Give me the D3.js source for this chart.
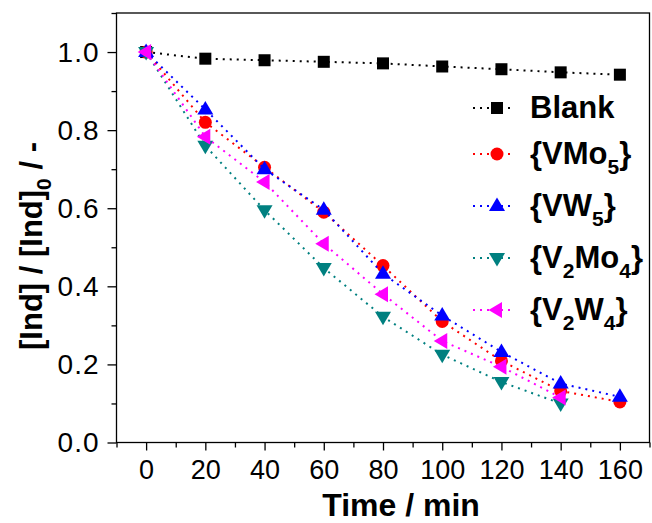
<!DOCTYPE html>
<html>
<head>
<meta charset="utf-8">
<script src="https://cdn.jsdelivr.net/npm/d3@7"></script>
<style>
  html, body { margin: 0; background: #fff; overflow: hidden; }
  svg { display: block; font-family: "Liberation Sans", Arial, sans-serif; }
</style>
</head>
<body>
<div id="chart"></div>
<script>
// time axis (min)
const time = [0, 20, 40, 60, 80, 100, 120, 140, 160]

// [Ind]/[Ind]0
const blank = [1.0, 0.983, 0.979, 0.975, 0.971, 0.963, 0.956, 0.948, 0.942]
const vmo5 = [1.0, 0.82, 0.705, 0.59, 0.453, 0.31, 0.209, 0.132, 0.104]
const vw5 = [1.0, 0.853, 0.70, 0.596, 0.432, 0.325, 0.232, 0.151, 0.117]
const v2mo4 = [1.0, 0.76, 0.595, 0.447, 0.322, 0.225, 0.155, 0.10]
const v2w4 = [1.0, 0.783, 0.667, 0.509, 0.38, 0.26, 0.194, 0.115]

const xTicks = [0, 20, 40, 60, 80, 100, 120, 140, 160]
const xMinor = [-10, 10, 30, 50, 70, 90, 110, 130, 150, 170]
const yTicks = [0, 0.2, 0.4, 0.6, 0.8, 1.0]
const yMinor = [0.1, 0.3, 0.5, 0.7, 0.9, 1.1]

// legend labels split into [text, isSubscript]
const series = [
  { parts: [['Blank', false]], values: blank, color: '#000000', symbol: 'square' },
  { parts: [['{VMo', false], ['5', true], ['}', false]], values: vmo5, color: '#ff0000', symbol: 'circle' },
  { parts: [['{VW', false], ['5', true], ['}', false]], values: vw5, color: '#0000ff', symbol: 'up' },
  { parts: [['{V', false], ['2', true], ['Mo', false], ['4', true], ['}', false]], values: v2mo4, color: '#008080', symbol: 'down' },
  { parts: [['{V', false], ['2', true], ['W', false], ['4', true], ['}', false]], values: v2w4, color: '#ff00ff', symbol: 'left' }
]

const width = 652
const height = 523
const margin = { top: 13, right: 2.5, bottom: 80.5, left: 116.5 }
const innerWidth = width - margin.left - margin.right
const innerHeight = height - margin.top - margin.bottom

const svg = d3.select('#chart').append('svg')
  .attr('width', width)
  .attr('height', height)

const g = svg.append('g')
  .attr('transform', `translate(${margin.left},${margin.top})`)

const x = d3.scaleLinear().domain([-10, 170]).range([0, innerWidth])
const y = d3.scaleLinear().domain([0, 1.1]).range([innerHeight, 0])

// minor ticks
g.append('g')
  .attr('transform', `translate(0,${innerHeight})`)
  .call(d3.axisBottom(x).tickValues(xMinor).tickSize(5).tickFormat(''))
  .call(a => a.selectAll('text').remove())
g.append('g')
  .call(d3.axisLeft(y).tickValues(yMinor).tickSize(5).tickFormat(''))
  .call(a => a.selectAll('text').remove())

// major ticks
g.append('g')
  .attr('transform', `translate(0,${innerHeight})`)
  .call(d3.axisBottom(x).tickValues(xTicks).tickSize(8).tickPadding(9).tickFormat(d3.format('d')))
  .call(a => a.selectAll('text').style('font-size', '27px'))
g.append('g')
  .call(d3.axisLeft(y).tickValues(yTicks).tickSize(9).tickPadding(8).tickFormat(d3.format('.1f')))
  .call(a => a.selectAll('text').style('font-size', '28px').style('letter-spacing', '1px'))

g.selectAll('.domain').remove()
g.selectAll('.tick line').attr('stroke', '#000').attr('stroke-width', 1.3)
g.selectAll('.tick text').attr('fill', '#000').style('font-family', '"Liberation Sans", Arial, sans-serif')

// frame
g.append('rect')
  .attr('width', innerWidth)
  .attr('height', innerHeight)
  .attr('fill', 'none')
  .attr('stroke', '#000')
  .attr('stroke-width', 1.3)

// symbols
function drawSymbol (sel, type, color) {
  if (type === 'circle') {
    sel.append('circle').attr('r', 6.5).attr('fill', color)
  } else if (type === 'square') {
    sel.append('rect').attr('x', -6).attr('y', -6).attr('width', 12).attr('height', 12).attr('fill', color)
  } else {
    const tri = {
      up: [[0, -8.5], [8, 5], [-8, 5]],
      down: [[0, 8.5], [8, -5], [-8, -5]],
      left: [[-8.5, 0], [5, -8], [5, 8]]
    }[type]
    sel.append('path').attr('d', 'M' + tri.join('L') + 'Z').attr('fill', color)
  }
}

const line = d3.line().x((d, i) => x(time[i])).y(d => y(d))

series.forEach(s => {
  const sg = g.append('g')
  sg.append('path')
    .datum(s.values)
    .attr('d', line)
    .attr('fill', 'none')
    .attr('stroke', s.color)
    .attr('stroke-width', 2)
    .attr('stroke-dasharray', '2,5')

  sg.selectAll('g.pt')
    .data(s.values)
    .join('g')
    .attr('class', 'pt')
    .attr('transform', (d, i) => `translate(${x(time[i])},${y(d)})`)
    .each(function () { drawSymbol(d3.select(this), s.symbol, s.color) })
})

// legend
const legend = svg.append('g').attr('transform', 'translate(497,108)')
let rowY = 0
series.forEach((s, i) => {
  if (i > 0) rowY += (i === 1 ? 46 : 52)
  const row = legend.append('g').attr('transform', `translate(0,${rowY})`)
  row.append('line')
    .attr('x1', -24).attr('x2', 16)
    .attr('stroke', s.color)
    .attr('stroke-width', 2)
    .attr('stroke-dasharray', '2,5')
  drawSymbol(row, s.symbol, s.color)
  const text = row.append('text')
    .attr('x', 33)
    .attr('y', 10)
    .style('font-size', '31px')
    .style('font-weight', 'bold')
  s.parts.forEach((p, j) => {
    const t = text.append('tspan').text(p[0])
    if (p[1]) t.attr('dy', 10).style('font-size', '21px')
    else if (j > 0 && s.parts[j - 1][1]) t.attr('dy', -10)
  })
})

// axis titles
svg.append('text')
  .attr('x', 401)
  .attr('y', 516)
  .attr('text-anchor', 'middle')
  .style('font-size', '32px')
  .style('font-weight', 'bold')
  .text('Time / min')

const yTitle = svg.append('text')
  .attr('transform', 'translate(42,246) rotate(-90)')
  .attr('text-anchor', 'middle')
  .style('font-size', '31px')
  .style('font-weight', 'bold')
yTitle.append('tspan').text('[Ind] / [Ind]')
yTitle.append('tspan').attr('dy', 9).style('font-size', '21px').text('0')
yTitle.append('tspan').attr('dy', -9).text(' / -')
</script>
</body>
</html>
